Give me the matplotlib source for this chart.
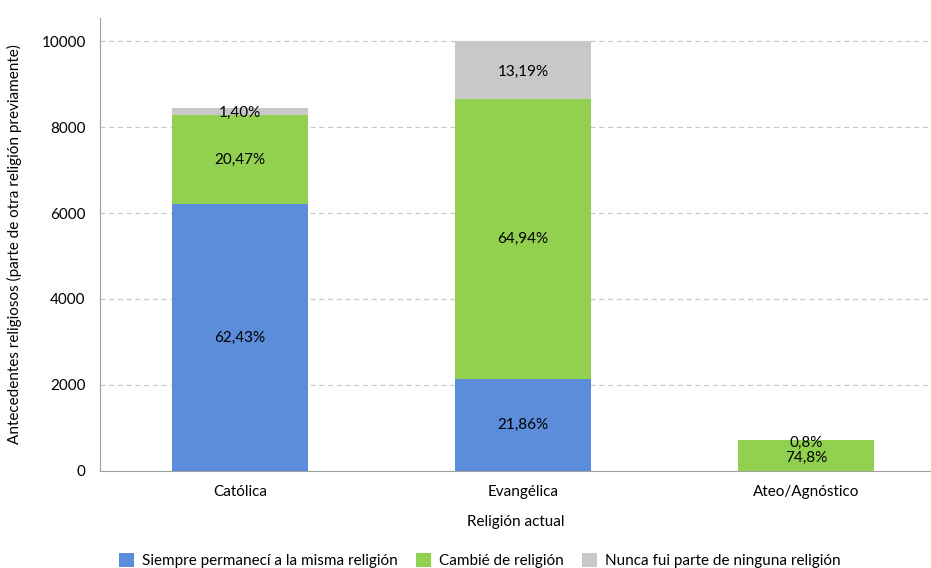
import numpy as np
import matplotlib
matplotlib.use('Agg')
import matplotlib.pyplot as plt

plt.rcParams['font.family'] = ['Lato', 'DejaVu Sans']

# Datos
categorias = ['Católica', 'Evangélica', 'Ateo/Agnóstico']
siempre = [6210, 2140, 0]
cambie = [2070, 6510, 712]
nunca = [160, 1350, 8]

etiq_siempre = ['62,43%', '21,86%', '']
etiq_cambie = ['20,47%', '64,94%', '74,8%']
etiq_nunca = ['1,40%', '13,19%', '0,8%']

nombres = ['Siempre permanecí a la misma religión', 'Cambié de religión',
           'Nunca fui parte de ninguna religión']
colores = ['#5B8DDB', '#92D050', '#C8C8C8']

fs = 11

fig = plt.figure(figsize=(9.31, 5.68), dpi=100)
ax = fig.add_axes([0.107, 0.171, 0.893, 0.797])

x = np.arange(len(categorias))
ancho = 0.48
b1 = ax.bar(x, siempre, ancho, color=colores[0], label=nombres[0], zorder=3)
b2 = ax.bar(x, cambie, ancho, bottom=siempre, color=colores[1], label=nombres[1], zorder=3)
base3 = np.array(siempre) + np.array(cambie)
b3 = ax.bar(x, nunca, ancho, bottom=base3, color=colores[2], label=nombres[2], zorder=3)

# Etiquetas dentro de las barras
for i in range(len(categorias)):
    if etiq_siempre[i]:
        ax.text(x[i], siempre[i] / 2, etiq_siempre[i], ha='center', va='center', fontsize=fs, zorder=4)
    if i < 2:
        ax.text(x[i], siempre[i] + cambie[i] / 2, etiq_cambie[i], ha='center', va='center', fontsize=fs, zorder=4)
        ax.text(x[i], base3[i] + nunca[i] / 2 - 40, etiq_nunca[i], ha='center', va='center', fontsize=fs, zorder=4)
    else:
        ax.text(x[i], base3[i] * 0.42, etiq_cambie[i], ha='center', va='center', fontsize=fs, zorder=4)
        ax.text(x[i], base3[i] * 0.92, etiq_nunca[i], ha='center', va='center', fontsize=fs, zorder=4)

ax.set_ylim(0, 10535)
ax.set_xlim(-0.495, 2.44)
ax.set_yticks([0, 2000, 4000, 6000, 8000, 10000])
ax.set_xticks(x)
ax.set_xticklabels(categorias)
ax.tick_params(axis='both', length=0, labelsize=fs, pad=10)
ax.yaxis.grid(True, linestyle=(0, (4, 3)), color='#C8C8C8', linewidth=0.9, zorder=0)

for lado in ['top', 'right']:
    ax.spines[lado].set_visible(False)
ax.spines['left'].set_color('#A0A0A0')
ax.spines['bottom'].set_color('#A0A0A0')

ax.set_xlabel('Religión actual', fontsize=fs, labelpad=12)
ax.set_ylabel('Antecedentes religiosos (parte de otra religión previamente)', fontsize=fs, labelpad=14)

fig.legend(handles=[b1, b2, b3], loc='lower center', bbox_to_anchor=(0.515, -0.025), ncol=3,
           frameon=False, fontsize=fs, handlelength=1.0, handleheight=1.0, columnspacing=1.2,
           handletextpad=0.5)

fig.savefig('out.png', dpi=100)
